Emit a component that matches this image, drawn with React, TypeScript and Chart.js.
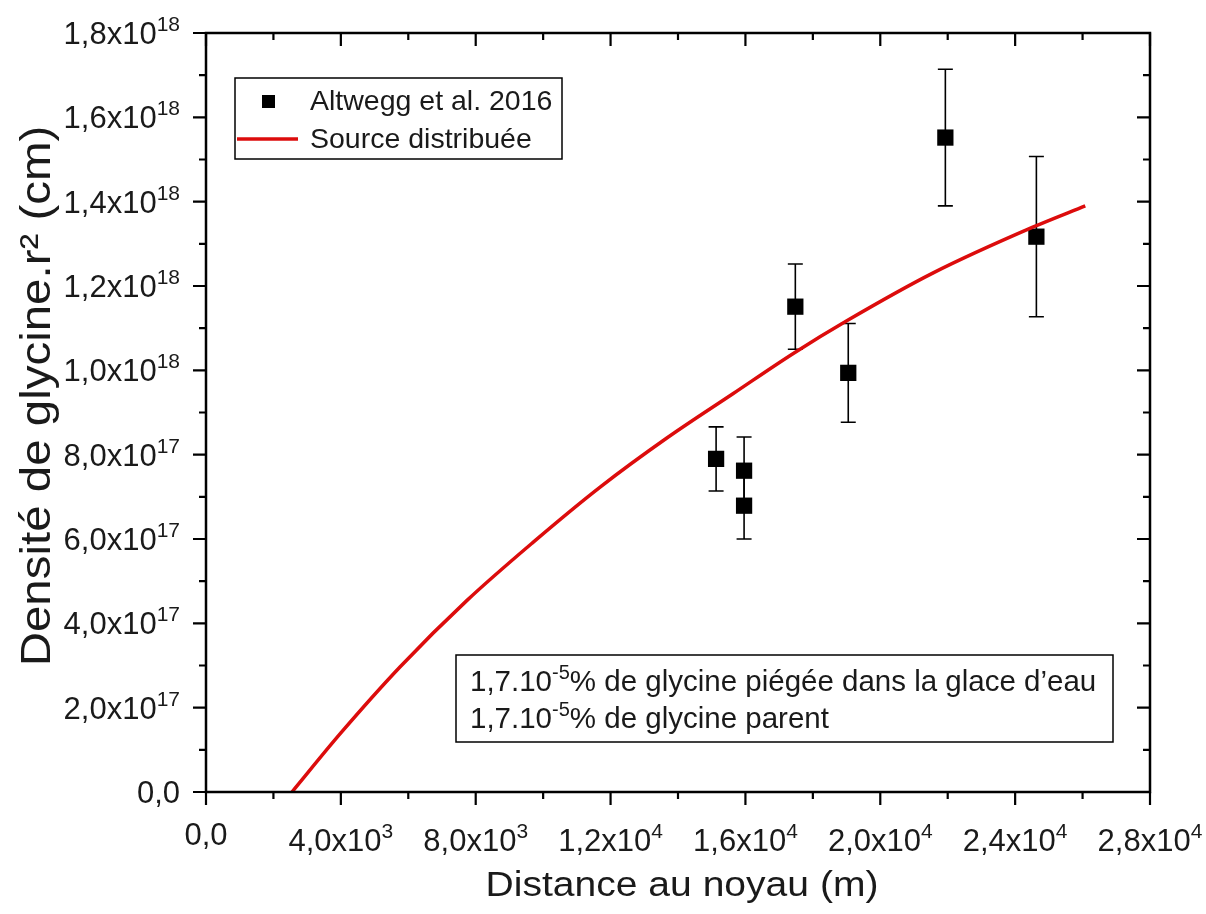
import React, { useEffect, useRef } from 'react';
import { Chart, registerables } from 'chart.js';

Chart.register(...registerables);

// ---- Data ----
const obsLabel = 'Altwegg et al. 2016';
const obsX = [15130, 15960, 15960, 17480, 19050, 21930, 24630];
const obsY = [0.79e18, 0.762e18, 0.679e18, 1.151e18, 0.994e18, 1.552e18, 1.317e18];
const obsErr = [0.076e18, 0.08e18, 0.079e18, 0.101e18, 0.117e18, 0.162e18, 0.19e18];

const modelLabel = 'Source distribuée';
const modelX = [2550, 4000, 5760, 7750, 9700, 11690, 13680, 15640, 17420, 19020, 21570, 24540, 26080];
const modelY = [0, 0.14e18, 0.297e18, 0.455e18, 0.592e18, 0.723e18, 0.84e18, 0.945e18, 1.04e18, 1.118e18, 1.231e18, 1.34e18, 1.39e18];

const xTickValues = [0, 4000, 8000, 12000, 16000, 20000, 24000, 28000];
const xTickMantissa = ['0,0', '4,0', '8,0', '1,2', '1,6', '2,0', '2,4', '2,8'];
const xTickExp = ['', '3', '3', '4', '4', '4', '4', '4'];

const yTickValues = [0, 0.2e18, 0.4e18, 0.6e18, 0.8e18, 1.0e18, 1.2e18, 1.4e18, 1.6e18, 1.8e18];
const yTickMantissa = ['0,0', '2,0', '4,0', '6,0', '8,0', '1,0', '1,2', '1,4', '1,6', '1,8'];
const yTickExp = ['', '17', '17', '17', '17', '18', '18', '18', '18', '18'];

const xTitle = 'Distance au noyau (m)';
const yTitle = 'Densité de glycine.r² (cm)';

const notePrefix = '1,7.10';
const noteExp = '-5';
const noteLines = ['% de glycine piégée dans la glace d’eau', '% de glycine parent'];

const FONT = '"Liberation Sans", Arial, Helvetica, sans-serif';
const RED = '#dc0c0c';
const TICK_FONT = 31;
const SUP_FONT = 21;
const SUP_RAISE = 13;

function measureSci(ctx: CanvasRenderingContext2D, mant: string, exp: string) {
  const main = exp ? mant + 'x10' : mant;
  ctx.font = `${TICK_FONT}px ${FONT}`;
  const wMain = ctx.measureText(main).width;
  ctx.font = `${SUP_FONT}px ${FONT}`;
  const wSup = exp ? ctx.measureText(exp).width : 0;
  return { main, wMain, wSup };
}

function drawSci(ctx: CanvasRenderingContext2D, mant: string, exp: string, startX: number, baseY: number) {
  const m = measureSci(ctx, mant, exp);
  ctx.textAlign = 'left';
  ctx.textBaseline = 'alphabetic';
  ctx.font = `${TICK_FONT}px ${FONT}`;
  ctx.fillText(m.main, startX, baseY);
  if (exp) {
    ctx.font = `${SUP_FONT}px ${FONT}`;
    ctx.fillText(exp, startX + m.wMain, baseY - SUP_RAISE);
  }
}

const decorPlugin = {
  id: 'decor',
  beforeDatasetsDraw(chart: any) {
    const ctx: CanvasRenderingContext2D = chart.ctx;
    const xs = chart.scales.x;
    const ys = chart.scales.y;
    ctx.save();
    ctx.strokeStyle = '#000';
    ctx.lineWidth = 1.6;
    for (let i = 0; i < obsX.length; i++) {
      const px = xs.getPixelForValue(obsX[i]);
      const top = ys.getPixelForValue(obsY[i] + obsErr[i]);
      const bot = ys.getPixelForValue(obsY[i] - obsErr[i]);
      ctx.beginPath();
      ctx.moveTo(px, top);
      ctx.lineTo(px, bot);
      ctx.moveTo(px - 7.5, top);
      ctx.lineTo(px + 7.5, top);
      ctx.moveTo(px - 7.5, bot);
      ctx.lineTo(px + 7.5, bot);
      ctx.stroke();
    }
    ctx.restore();
  },
  afterDraw(chart: any) {
    const ctx: CanvasRenderingContext2D = chart.ctx;
    const xs = chart.scales.x;
    const ys = chart.scales.y;
    const { left, right, top, bottom } = chart.chartArea;
    ctx.save();
    ctx.fillStyle = '#1a1a1a';
    ctx.strokeStyle = '#000';

    // frame
    ctx.lineWidth = 2.5;
    ctx.strokeRect(left, top, right - left, bottom - top);

    // ticks
    const MAJ = 13;
    const MIN = 7;
    ctx.lineWidth = 2.2;
    ctx.beginPath();
    for (let i = 0; i < xTickValues.length; i++) {
      const px = xs.getPixelForValue(xTickValues[i]);
      ctx.moveTo(px, bottom); ctx.lineTo(px, bottom + MAJ);
      ctx.moveTo(px, top); ctx.lineTo(px, top + MAJ);
      if (i < xTickValues.length - 1) {
        const mx = xs.getPixelForValue((xTickValues[i] + xTickValues[i + 1]) / 2);
        ctx.moveTo(mx, bottom); ctx.lineTo(mx, bottom + MIN);
        ctx.moveTo(mx, top); ctx.lineTo(mx, top + MIN);
      }
    }
    for (let i = 0; i < yTickValues.length; i++) {
      const py = ys.getPixelForValue(yTickValues[i]);
      ctx.moveTo(left, py); ctx.lineTo(left - MAJ, py);
      ctx.moveTo(right, py); ctx.lineTo(right - MAJ, py);
      if (i < yTickValues.length - 1) {
        const my = ys.getPixelForValue((yTickValues[i] + yTickValues[i + 1]) / 2);
        ctx.moveTo(left, my); ctx.lineTo(left - MIN, my);
        ctx.moveTo(right, my); ctx.lineTo(right - MIN, my);
      }
    }
    ctx.stroke();

    // x tick labels: top-aligned box (superscript top or main top at same line)
    const labelTop = bottom + 31;
    for (let i = 0; i < xTickValues.length; i++) {
      const px = xs.getPixelForValue(xTickValues[i]);
      const m = measureSci(ctx, xTickMantissa[i], xTickExp[i]);
      const total = m.wMain + m.wSup;
      const base = xTickExp[i] ? labelTop + 15 + SUP_RAISE : labelTop + 22;
      drawSci(ctx, xTickMantissa[i], xTickExp[i], px - total / 2, base);
    }
    // y tick labels: right aligned, main text centred on tick
    for (let i = 0; i < yTickValues.length; i++) {
      const py = ys.getPixelForValue(yTickValues[i]);
      const m = measureSci(ctx, yTickMantissa[i], yTickExp[i]);
      const total = m.wMain + m.wSup;
      drawSci(ctx, yTickMantissa[i], yTickExp[i], left - 26 - total, py + 11);
    }

    // axis titles (slightly widened glyphs, as in the reference)
    ctx.textAlign = 'center';
    ctx.textBaseline = 'alphabetic';
    ctx.save();
    ctx.translate(682, 896);
    ctx.scale(1.1, 1);
    ctx.font = `35.5px ${FONT}`;
    ctx.fillText(xTitle, 0, 0);
    ctx.restore();
    ctx.save();
    ctx.translate(50, 396);
    ctx.rotate(-Math.PI / 2);
    ctx.scale(1.13, 1);
    ctx.font = `42px ${FONT}`;
    ctx.fillText(yTitle, 0, 0);
    ctx.restore();

    // legend
    ctx.strokeStyle = '#000';
    ctx.lineWidth = 1.5;
    ctx.strokeRect(235, 78, 327, 81);
    ctx.fillStyle = '#000';
    ctx.fillRect(262, 95, 13, 13);
    ctx.strokeStyle = RED;
    ctx.lineWidth = 3.5;
    ctx.beginPath();
    ctx.moveTo(237, 139); ctx.lineTo(298, 139);
    ctx.stroke();
    ctx.fillStyle = '#1a1a1a';
    ctx.font = `28.5px ${FONT}`;
    ctx.textAlign = 'left';
    ctx.textBaseline = 'middle';
    ctx.fillText(chart.data.datasets[0].label, 310, 102);
    ctx.fillText(chart.data.datasets[1].label, 310, 140);

    // annotation box
    ctx.strokeStyle = '#000';
    ctx.lineWidth = 1.5;
    ctx.strokeRect(456, 655, 657, 87);
    ctx.textBaseline = 'alphabetic';
    for (let i = 0; i < noteLines.length; i++) {
      const by = 691 + i * 37;
      ctx.font = `29.5px ${FONT}`;
      ctx.fillText(notePrefix, 470, by);
      const w1 = ctx.measureText(notePrefix).width;
      ctx.font = `20px ${FONT}`;
      ctx.fillText(noteExp, 470 + w1, by - 12);
      const w2 = ctx.measureText(noteExp).width;
      ctx.font = `29.5px ${FONT}`;
      ctx.fillText(noteLines[i], 470 + w1 + w2, by);
    }
    ctx.restore();
  },
};

export default function App() {
  const ref = useRef<HTMLCanvasElement | null>(null);
  useEffect(() => {
    if (!ref.current) return;
    const chart = new Chart(ref.current, {
      type: 'scatter',
      data: {
        datasets: [
          {
            label: obsLabel,
            data: obsX.map((x, i) => ({ x, y: obsY[i] })),
            pointStyle: 'rect',
            pointRadius: 11.5,
            pointHoverRadius: 11.5,
            backgroundColor: '#000',
            borderColor: '#000',
            borderWidth: 0,
            order: 1,
          },
          {
            label: modelLabel,
            data: modelX.map((x, i) => ({ x, y: modelY[i] })),
            showLine: true,
            borderColor: RED,
            backgroundColor: RED,
            borderWidth: 3.5,
            pointRadius: 0,
            pointHoverRadius: 0,
            cubicInterpolationMode: 'monotone',
            order: 0,
          } as any,
        ],
      },
      options: {
        animation: false,
        responsive: false,
        layout: { padding: { left: 206, top: 33, right: 56, bottom: 122 } },
        plugins: { legend: { display: false }, tooltip: { enabled: false } },
        scales: {
          x: { type: 'linear', min: 0, max: 28000, display: false },
          y: { type: 'linear', min: 0, max: 1.8e18, display: false },
        },
      },
      plugins: [decorPlugin],
    });
    return () => chart.destroy();
  }, []);
  return (
    <div style={{ position: 'fixed', left: 0, top: 0, width: 1206, height: 914, background: '#fff', overflow: 'hidden' }}>
      <canvas ref={ref} width={1206} height={914} style={{ width: 1206, height: 914, display: 'block' }} />
    </div>
  );
}
